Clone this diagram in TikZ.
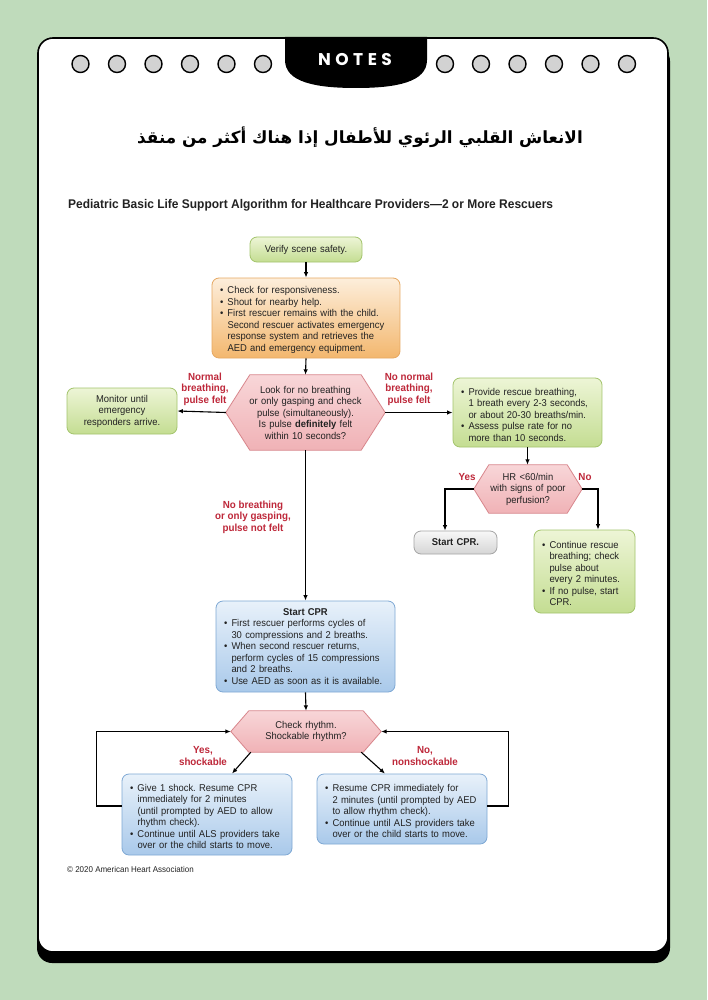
\documentclass[tikz,border=0pt]{standalone}
\usepackage{fontspec}
\setmainfont{Liberation Sans}[FakeStretch=0.95]
\newfontfamily\arabicfont[Script=Arabic]{DejaVu Sans}
\newfontfamily\notesfont{Poppins}
\TeXXeTstate=1
\frenchspacing
\usetikzlibrary{arrows.meta,calc,backgrounds}
\pgfdeclarelayer{paper}
\pgfsetlayers{paper,background,main}
\definecolor{bgc}{HTML}{BFDBBB}
\definecolor{circfill}{HTML}{D2D2D2}
\definecolor{txt}{HTML}{222222}
\definecolor{redl}{HTML}{BE283A}
\definecolor{gtop}{HTML}{EDF5D6}
\definecolor{gbot}{HTML}{C4DD92}
\definecolor{gbd}{HTML}{A3C46C}
\definecolor{otop}{HTML}{FDEEDB}
\definecolor{obot}{HTML}{F3B76E}
\definecolor{obd}{HTML}{E6A862}
\definecolor{btop}{HTML}{E8F1FA}
\definecolor{bbot}{HTML}{A9C9EA}
\definecolor{bbd}{HTML}{7EA8D4}
\definecolor{ytop}{HTML}{F8F8F8}
\definecolor{ybot}{HTML}{D5D5D5}
\definecolor{ybd}{HTML}{A5A5A5}
\definecolor{ptop}{HTML}{F8D6D8}
\definecolor{pbot}{HTML}{F0B2B6}
\definecolor{pbd}{HTML}{D8868C}
\newcommand\boxfont{\color{txt}\fontsize{9.9}{11.5}\selectfont\frenchspacing}
\newcommand\lblfont{\bfseries\fontsize{10.3}{11.5}\selectfont}
\newcommand\nl{\hfil\break}
\newcommand\bit[1]{\par\hangindent=7.5pt\hangafter=1\noindent\makebox[7.5pt][l]{\textbullet}#1\par}
\newcommand\hexshape[2]{\begin{pgfonlayer}{background}\draw[hexfill] (#1.west) -- ($(#1.north west)+(#2,0)$) -- ($(#1.north east)+(-#2,0)$) -- (#1.east) -- ($(#1.south east)+(-#2,0)$) -- ($(#1.south west)+(#2,0)$) -- cycle;\end{pgfonlayer}}
\begin{document}
\begin{tikzpicture}[x=1pt,y=-1pt,
  box/.style={rounded corners=7pt, line width=0.8pt, inner xsep=8pt, inner ysep=2pt, font=\boxfont, align=left},
  grn/.style={box, draw=gbd, top color=gtop, bottom color=gbot},
  org/.style={box, draw=obd, top color=otop, bottom color=obot},
  blu/.style={box, draw=bbd, top color=btop, bottom color=bbot},
  gry/.style={box, draw=ybd, top color=ytop, bottom color=ybot},
  hext/.style={inner sep=0pt, font=\boxfont, align=center},
  hexfill/.style={draw=pbd, line width=0.8pt, top color=ptop, bottom color=pbot},
  lbl/.style={font=\lblfont, text=redl, align=center, inner sep=0pt},
  arr/.style={-{Latex[length=5.5pt,width=4.5pt]}, line width=1.1pt},
  dot/.style={fill=circfill, draw=black, line width=1.4pt}]
\useasboundingbox (0,0) rectangle (707,1000);
\begin{pgfonlayer}{paper}
\fill[bgc] (0,0) rectangle (707,1000);
\fill[black, rounded corners=15pt] (37,46) rectangle (670,963);
\filldraw[fill=white, draw=black, line width=1.6pt, rounded corners=15pt] (38,38) rectangle (668,952);
\end{pgfonlayer}
% tab
\fill[black] (285,37) -- (285,60) .. controls (285,82) and (315,88) .. (356,88) .. controls (397,88) and (427,82) .. (427,60) -- (427,37) -- cycle;
\node[text=white, font=\notesfont\bfseries\fontsize{17}{17}\selectfont, inner sep=0pt] (notes) at (355,59.5) {N\kern4.5pt O\kern4.5pt T\kern4.5pt E\kern4.5pt S};
\foreach \x in {80.5,117,153.5,190,226.5,263,445,481,517.5,554,590.5,627}
  \draw[dot] (\x,64) circle (8.5);
% titles
\node[font=\arabicfont\bfseries\fontsize{16.8}{20}\selectfont, inner sep=0pt] (ar) at (360,137) {\beginR الانعاش القلبي الرئوي للأطفال إذا هناك أكثر من منقذ\endR};
\node[anchor=west, font=\bfseries\fontsize{12.6}{14}\selectfont, text=txt, inner sep=0pt] (title) at (68,205.5) {Pediatric Basic Life Support Algorithm for Healthcare Providers—2 or More Rescuers};
% boxes
\node[grn, text width=96, align=center, minimum height=25] (verify) at (306,249.5) {Verify scene safety.};
\node[org, text width=172, minimum height=80] (orange) at (306,318) {\bit{Check for responsiveness.}\bit{Shout for nearby help.}\bit{First rescuer remains with the child.\nl Second rescuer activates emergency\nl response system and retrieves the\nl AED and emergency equipment.}};
\node[hext, minimum width=159, minimum height=75, text width=140] (h1) at (305.5,412.5) {Look for no breathing\\or only gasping and check\\pulse (simultaneously).\\Is pulse \textbf{definitely} felt\\within 10 seconds?};
\hexshape{h1}{24}
\node[grn, text width=94, align=center, minimum height=46] (monitor) at (122,411) {Monitor until\\emergency\\responders arrive.};
\node[grn, text width=133, minimum height=69] (rg) at (527.5,412.5) {\bit{Provide rescue breathing,\nl 1 breath every 2-3 seconds,\nl or about 20-30 breaths/min.}\bit{Assess pulse rate for no\nl more than 10 seconds.}};
\node[hext, minimum width=108, minimum height=48, text width=100] (h2) at (528,489) {HR <60/min\\with signs of poor\\perfusion?};
\hexshape{h2}{15}
\node[gry, text width=67, align=center, minimum height=23, font=\boxfont\bfseries] (gray) at (455.5,542.5) {Start CPR.};
\node[grn, text width=85, minimum height=83] (cont) at (584.5,571.5) {\bit{Continue rescue\nl breathing; check\nl pulse about\nl every 2 minutes.}\bit{If no pulse, start\nl CPR.}};
\node[blu, text width=163, minimum height=91] (blue) at (305.5,646.5) {{\centering\textbf{Start CPR}\par}\bit{First rescuer performs cycles of\nl 30 compressions and 2 breaths.}\bit{When second rescuer returns,\nl perform cycles of 15 compressions\nl and 2 breaths.}\bit{Use AED as soon as it is available.}};
\node[hext, minimum width=150, minimum height=41, text width=130] (h3) at (306,731.5) {Check rhythm.\\Shockable rhythm?};
\hexshape{h3}{18}
\node[blu, text width=154, minimum height=81] (lbox) at (207,814.5) {\bit{Give 1 shock. Resume CPR\nl immediately for 2 minutes\nl (until prompted by AED to allow\nl rhythm check).}\bit{Continue until ALS providers take\nl over or the child starts to move.}};
\node[blu, text width=154, minimum height=70] (rbox) at (402,809) {\bit{Resume CPR immediately for\nl 2 minutes (until prompted by AED\nl to allow rhythm check).}\bit{Continue until ALS providers take\nl over or the child starts to move.}};
% labels
\node[lbl] (l1) at (205,389) {Normal\\breathing,\\pulse felt};
\node[lbl] (l2) at (409,389) {No normal\\breathing,\\pulse felt};
\node[lbl] (l3) at (467,477) {Yes};
\node[lbl] (l4) at (585,477) {No};
\node[lbl] (l5) at (253,517) {No breathing\\or only gasping,\\pulse not felt};
\node[lbl] (l6) at (203,756) {Yes,\\shockable};
\node[lbl] (l7) at (425,756) {No,\\nonshockable};
\node[anchor=west, font=\fontsize{8.4}{9}\selectfont, text=txt, inner sep=0pt] (copy) at (67,869) {© 2020 American Heart Association};
% connectors
\draw[arr] (verify.south) -- (orange.north);
\draw[arr] (orange.south) -- (h1.north);
\draw[arr] (h1.west) -- (monitor.east);
\draw[arr] (h1.east) -- (rg.west);
\draw[arr] (rg.south) -- (rg.south |- h2.north);
\draw[arr] (h2.west) -| ($(gray.north)+(-10.5,0)$);
\draw[arr] (h2.east) -| ($(cont.north)+(13.5,0)$);
\draw[arr] (h1.south) -- (blue.north);
\draw[arr] (blue.south) -- (h3.north);
\draw[arr] ($(h3.south west)+(20,0)$) -- ($(lbox.north)+(25,0)$);
\draw[arr] ($(h3.south east)+(-20,0)$) -- ($(rbox.north)+(-17,0)$);
\draw[arr] ($(lbox.west)+(0,-8.5)$) -- ++(-25,0) |- (h3.west);
\draw[arr] ($(rbox.east)+(0,-3)$) -- ++(21,0) |- (h3.east);
\end{tikzpicture}
\end{document}
